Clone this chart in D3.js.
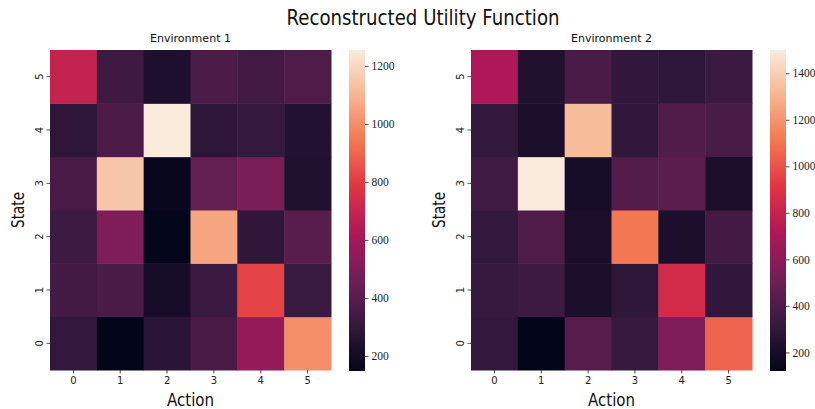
<!DOCTYPE html>
<html>
<head>
<meta charset="utf-8">
<script src="https://cdn.jsdelivr.net/npm/d3@7"></script>
<style>
  html, body { margin: 0; padding: 0; background: #fff; }
  svg { display: block; }
</style>
</head>
<body>
<svg id="chart" width="815" height="409"></svg>
<script>
// Axis categories
const actions = [0, 1, 2, 3, 4, 5];
const states = [0, 1, 2, 3, 4, 5];

// Utility values, one row per state (state 0 first), one column per action
const env1Values = [
  [300, 148, 275, 365, 560, 1000],
  [345, 360, 215, 320, 820, 315],
  [325, 500, 152, 1060, 290, 400],
  [365, 1150, 160, 430, 490, 240],
  [285, 370, 1255, 285, 305, 245],
  [690, 330, 230, 370, 345, 375]
];
const env2Values = [
  [310, 120, 425, 325, 560, 1050],
  [325, 340, 215, 295, 850, 300],
  [305, 405, 210, 1110, 220, 360],
  [350, 1500, 200, 420, 440, 215],
  [310, 210, 1330, 300, 410, 380],
  [720, 230, 390, 300, 285, 330]
];

const env1Ticks = [200, 400, 600, 800, 1000, 1200];
const env2Ticks = [200, 400, 600, 800, 1000, 1200, 1400];

// Rocket colormap stops
const rocketStops = ["#03051a", "#35193e", "#701f57", "#ad1759", "#e13342", "#f37651", "#f6b48f", "#faebdd"];
const rocketPos = rocketStops.map((_, i) => i === 0 ? 0 : i === rocketStops.length - 1 ? 1 : i / 7);
const rocket = d3.scaleLinear().domain(rocketPos).range(rocketStops).interpolate(d3.interpolateRgb).clamp(true);

const svg = d3.select("#chart");
const sansFont = "'DejaVu Sans', sans-serif";
const serifFont = "'Liberation Serif', serif";

svg.append("text")
  .attr("x", 423).attr("y", 25)
  .attr("text-anchor", "middle")
  .attr("font-family", sansFont)
  .attr("font-size", 21)
  .attr("textLength", 273)
  .attr("lengthAdjust", "spacingAndGlyphs")
  .attr("fill", "#111")
  .text("Reconstructed Utility Function");

function drawPanel(opts) {
  const { values, ticks, title, x0, x1, cbX } = opts;
  const y0 = 50, y1 = 370;
  const flat = values.flat();
  const vmin = d3.min(flat), vmax = d3.max(flat);
  const colorNorm = d3.scaleLinear().domain([vmin, vmax]).range([0, 1]);

  const x = d3.scaleBand().domain(actions).range([x0, x1]);
  const y = d3.scaleBand().domain(states.slice().reverse()).range([y0, y1]);

  const g = svg.append("g");
  const cells = [];
  values.forEach((row, s) => row.forEach((v, a) => cells.push({ s, a, v })));

  g.selectAll("rect.cell").data(cells).join("rect")
    .attr("class", "cell")
    .attr("x", d => x(d.a))
    .attr("y", d => y(d.s))
    .attr("width", x.bandwidth() + 0.5)
    .attr("height", y.bandwidth() + 0.5)
    .attr("fill", d => rocket(colorNorm(d.v)));

  // x axis
  const xAxis = g.append("g")
    .attr("transform", `translate(0,${y1})`)
    .call(d3.axisBottom(x).tickSize(3.5).tickPadding(3));
  xAxis.select(".domain").remove();
  xAxis.selectAll("line").attr("stroke", "#222").attr("stroke-width", 0.8);
  xAxis.selectAll(".tick text").attr("font-family", sansFont).attr("font-size", 10)
    .attr("fill", "#222");

  // y axis with rotated labels
  const yAxis = g.append("g")
    .attr("transform", `translate(${x0},0)`)
    .call(d3.axisLeft(y).tickSize(3.5).tickPadding(3));
  yAxis.select(".domain").remove();
  yAxis.selectAll("line").attr("stroke", "#222").attr("stroke-width", 0.8);
  yAxis.selectAll(".tick text")
    .attr("font-family", sansFont).attr("font-size", 10).attr("fill", "#222")
    .attr("x", null).attr("dy", null)
    .attr("text-anchor", "middle")
    .attr("transform", "translate(-10.5,0) rotate(-90)")
    .attr("dominant-baseline", "central");

  // titles
  svg.append("text")
    .attr("x", (x0 + x1) / 2).attr("y", 42)
    .attr("text-anchor", "middle")
    .attr("font-family", sansFont).attr("font-size", 11)
    .attr("textLength", 81).attr("lengthAdjust", "spacingAndGlyphs")
    .attr("fill", "#111")
    .text(title);
  svg.append("text")
    .attr("x", (x0 + x1) / 2).attr("y", 406)
    .attr("text-anchor", "middle")
    .attr("font-family", sansFont).attr("font-size", 17)
    .attr("textLength", 47).attr("lengthAdjust", "spacingAndGlyphs")
    .attr("fill", "#111")
    .text("Action");
  svg.append("text")
    .attr("transform", `translate(${x0 - 26},${(y0 + y1) / 2}) rotate(-90)`)
    .attr("text-anchor", "middle")
    .attr("font-family", sansFont).attr("font-size", 17)
    .attr("textLength", 36).attr("lengthAdjust", "spacingAndGlyphs")
    .attr("fill", "#111")
    .text("State");

  // colorbar
  const cbW = 16;
  const cbTop = 50, cbBottom = 371;
  const cbScale = d3.scaleLinear().domain([vmin, vmax]).range([cbBottom, cbTop]);
  const defs = svg.append("defs");
  const gradId = "grad-" + title.replace(/\s+/g, "");
  const grad = defs.append("linearGradient").attr("id", gradId)
    .attr("x1", 0).attr("y1", 1).attr("x2", 0).attr("y2", 0);
  d3.range(0, 1.0001, 0.02).forEach(t => {
    grad.append("stop").attr("offset", t).attr("stop-color", rocket(t));
  });
  svg.append("rect")
    .attr("x", cbX).attr("y", cbTop)
    .attr("width", cbW).attr("height", cbBottom - cbTop)
    .attr("fill", `url(#${gradId})`);
  const cbAxis = svg.append("g")
    .attr("transform", `translate(${cbX + cbW},0)`)
    .call(d3.axisRight(cbScale).tickValues(ticks).tickSize(3.5).tickPadding(3).tickFormat(d3.format("d")));
  cbAxis.select(".domain").remove();
  cbAxis.selectAll("line").attr("stroke", "#222").attr("stroke-width", 0.8);
  cbAxis.selectAll("text").attr("font-family", serifFont).attr("font-size", 11.5).attr("fill", "#222");
}

drawPanel({ values: env1Values, ticks: env1Ticks, title: "Environment 1", x0: 50, x1: 331, cbX: 349 });
drawPanel({ values: env2Values, ticks: env2Ticks, title: "Environment 2", x0: 471, x1: 752, cbX: 770 });
</script>
</body>
</html>
